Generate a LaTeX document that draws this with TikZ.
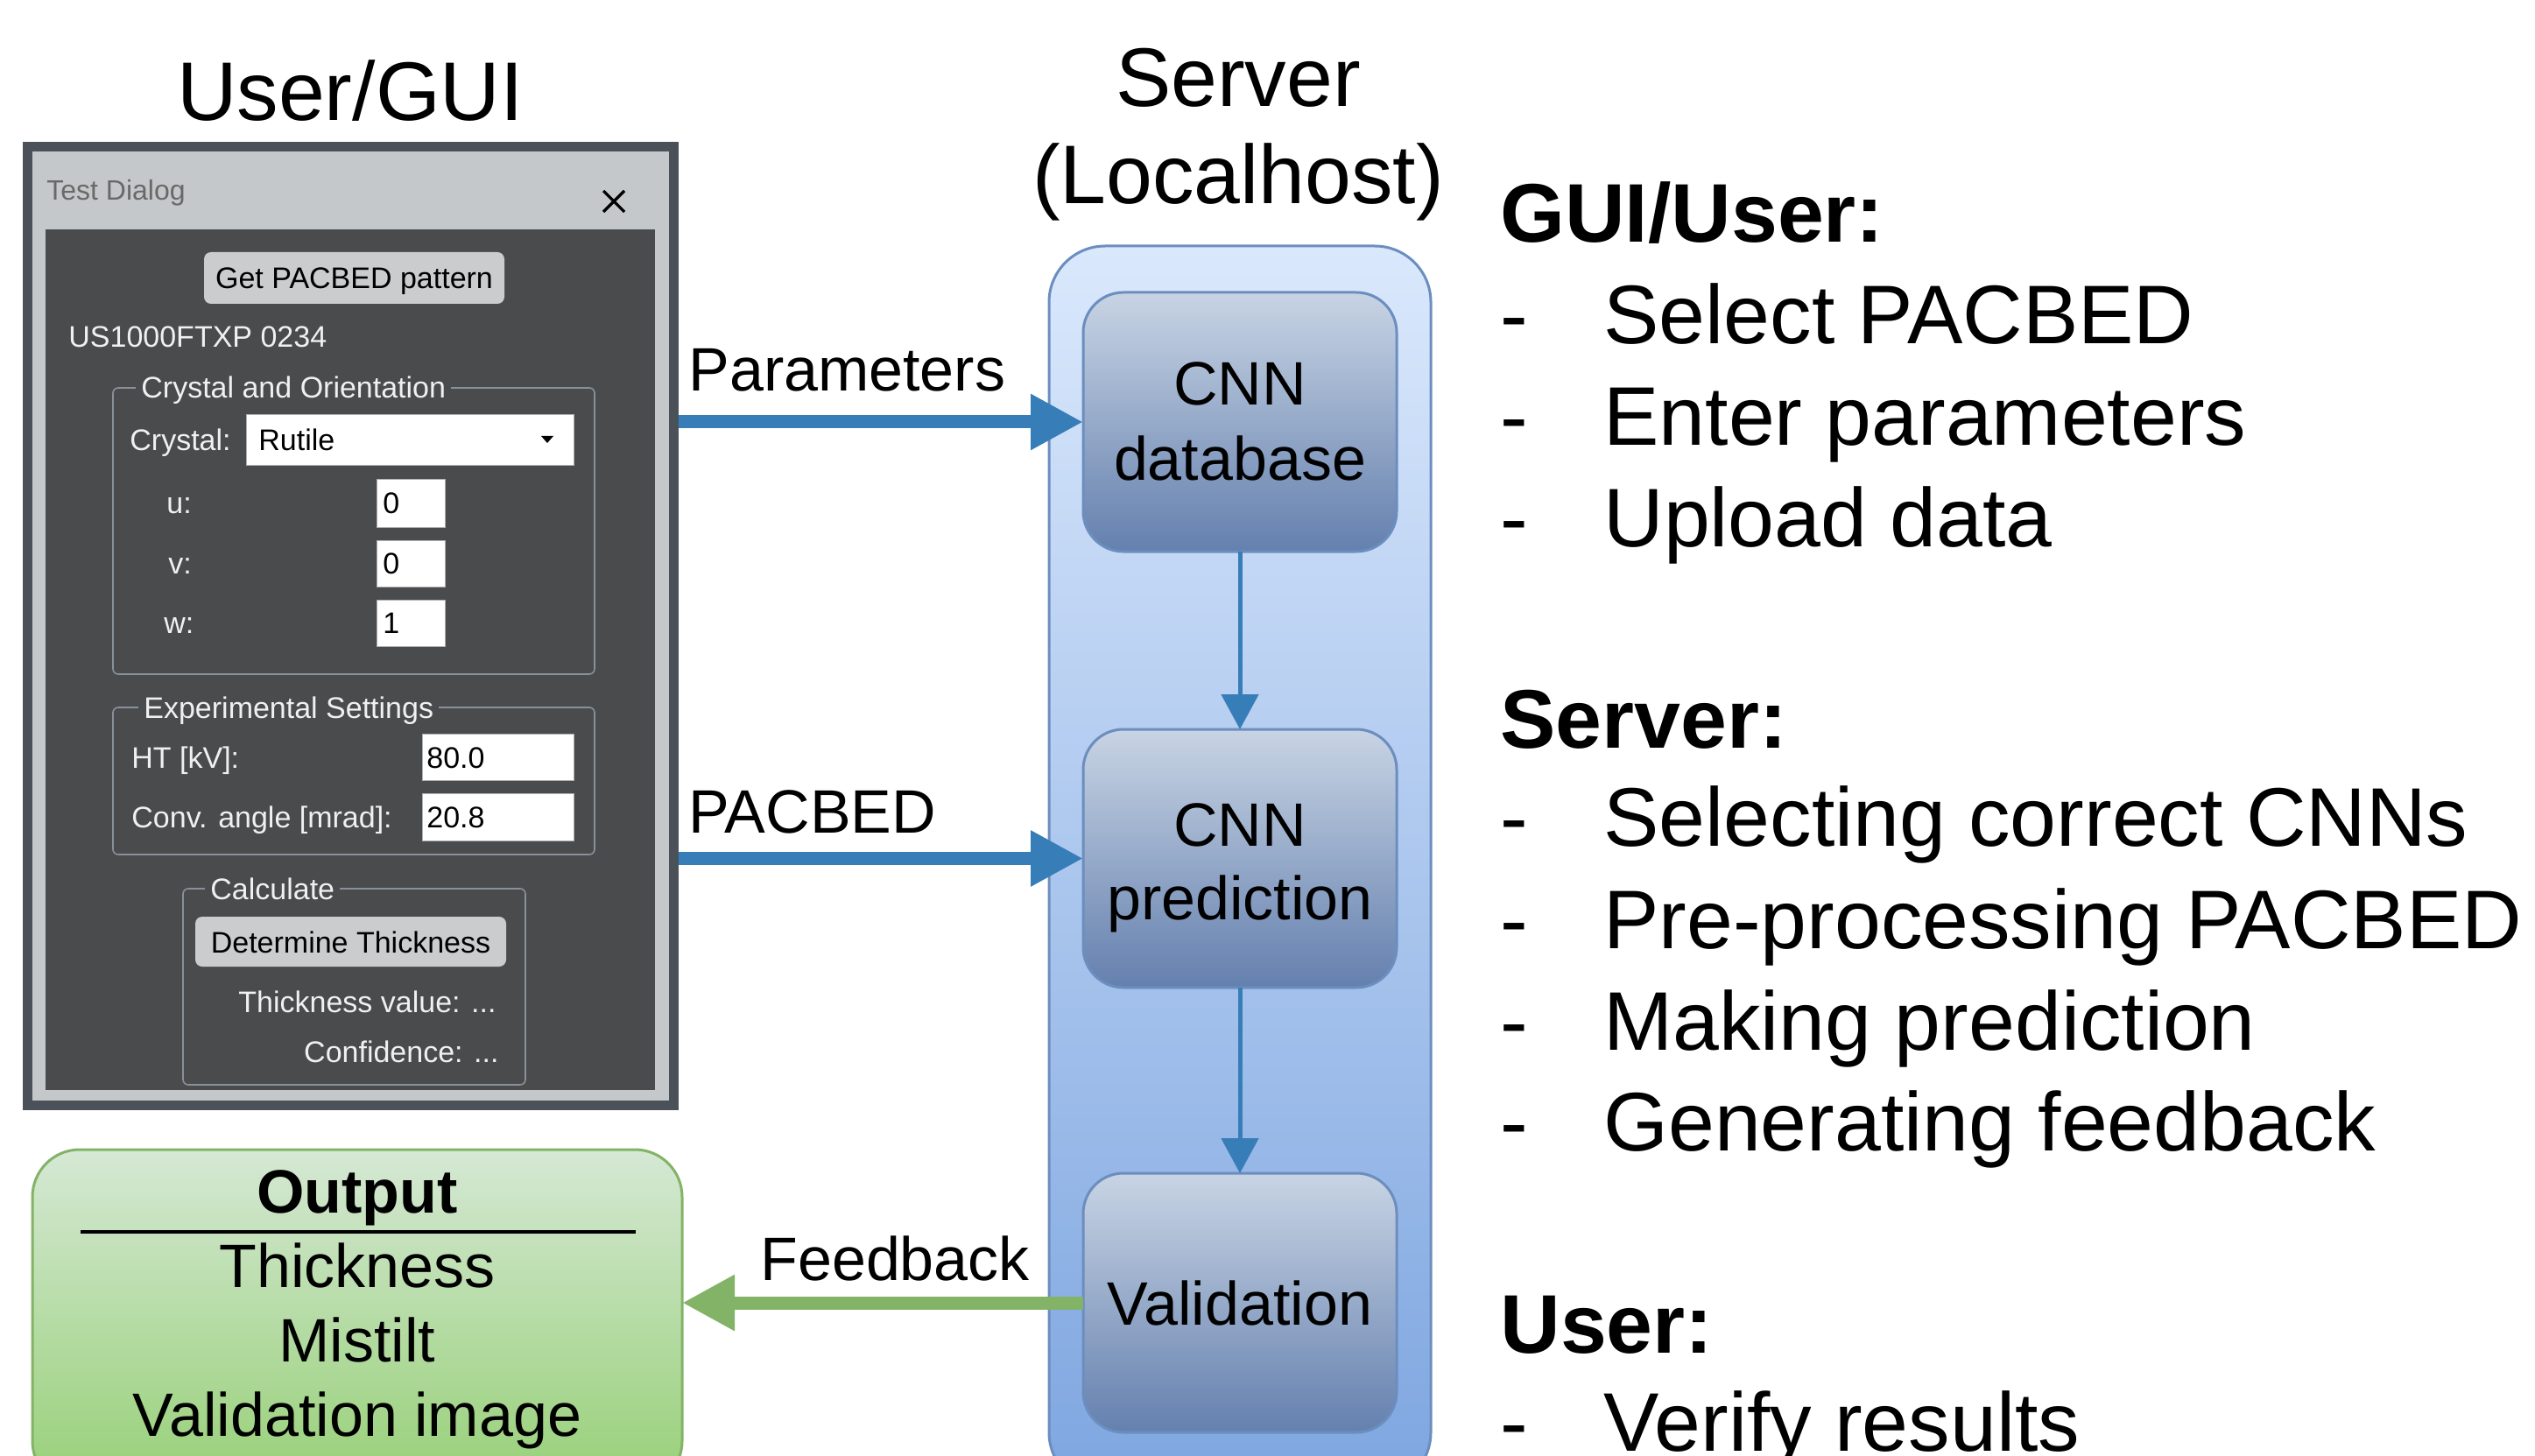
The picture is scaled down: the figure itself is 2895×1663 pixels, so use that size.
\documentclass[tikz,border=0pt]{standalone}
\usepackage{fontspec}
\setmainfont{Liberation Sans}
\usetikzlibrary{arrows.meta,fit}
\definecolor{frameC}{RGB}{74,81,89}
\definecolor{grayC}{RGB}{197,200,202}
\definecolor{panelC}{RGB}{74,75,77}
\definecolor{btnC}{RGB}{202,204,206}
\definecolor{grpC}{RGB}{135,145,155}
\definecolor{dlgtext}{RGB}{240,240,240}
\definecolor{titleC}{RGB}{105,105,105}
\definecolor{fieldLine}{RGB}{175,175,175}
\definecolor{arrowB}{RGB}{55,126,184}
\definecolor{arrowG}{RGB}{130,179,102}
\definecolor{srvTop}{RGB}{218,232,252}
\definecolor{srvBot}{RGB}{126,166,224}
\definecolor{srvLine}{RGB}{108,142,191}
\definecolor{boxTop}{RGB}{200,212,228}
\definecolor{boxBot}{RGB}{100,128,174}
\definecolor{outTop}{RGB}{213,232,212}
\definecolor{outBot}{RGB}{151,208,119}
\begin{document}
\begin{tikzpicture}[x=0.5pt,y=-0.5pt,
  big/.style={font=\fontsize{47.5}{57}\selectfont, inner sep=0pt},
  bigb/.style={font=\bfseries\fontsize{47.5}{57}\selectfont, inner sep=0pt},
  lbl/.style={font=\fontsize{35}{42}\selectfont, inner sep=0pt},
  lblb/.style={font=\bfseries\fontsize{35}{42}\selectfont, inner sep=0pt},
  dlg/.style={font=\fontsize{17}{20}\selectfont, inner sep=0pt, text=dlgtext},
  dlgdark/.style={font=\fontsize{17}{20}\selectfont, inner sep=0pt, text=black},
  fitbox/.style={inner sep=0pt, outer sep=0pt},
  btn/.style={fitbox, fill=btnC, rounded corners=4pt},
  field/.style={fitbox, fill=white, draw=fieldLine, line width=0.5pt},
  grp/.style={fitbox, draw=grpC, line width=0.8pt, rounded corners=3pt},
  grplabel/.style={dlg, fill=panelC, inner xsep=3pt, inner ysep=0pt},
  srv/.style={fitbox, draw=srvLine, line width=1.5pt, rounded corners=32pt, top color=srvTop, bottom color=srvBot},
  cnnbox/.style={fitbox, draw=srvLine, line width=1.5pt, rounded corners=23pt, top color=boxTop, bottom color=boxBot},
  outbox/.style={fitbox, draw=arrowG, line width=1.5pt, rounded corners=27pt, top color=outTop, bottom color=outBot},
  bigarrow/.style={draw=#1, line width=7.5pt, -{Triangle[length=30pt,width=30pt]}},
  smallarrow/.style={draw=arrowB, line width=2.5pt, -{Triangle[length=20pt,width=21pt]}}
]
\useasboundingbox (0,0) rectangle (2895,1663);
\clip (0,0) rectangle (2895,1663);

% ---------- titles ----------
\node[big, anchor=base] (tUser) at (400,138) {User/GUI};
\node[big, anchor=base] (tServer) at (1414,122) {Server};
\node[big, anchor=base] (tLocal) at (1414,233) {(Localhost)};

% ---------- dialog ----------
\node[fitbox, fill=frameC, fit={(26,162)(775,1268)}] (dialog) {};
\node[fitbox, fill=grayC, fit={(37,173)(764,1257)}] (dgray) {};
\node[fitbox, fill=panelC, fit={(52,262)(748,1245)}] (dpanel) {};
\node[font=\fontsize{16}{19}\selectfont, inner sep=0pt, text=titleC, anchor=base west] (dtitle) at (53,229) {Test Dialog};
\draw[line width=1.6pt, black] (689,218) -- (713,242) (689,242) -- (713,218);

\node[btn, fit={(233,288)(576,347)}] (bget) {};
\node[dlgdark, anchor=base] (tget) at (404.5,330) {Get PACBED pattern};
\node[dlg, anchor=base west] (tus) at (78,397) {US1000FTXP 0234};

\node[grp, fit={(129,443)(679,770)}] (gcrys) {};
\node[grplabel, anchor=base west] (lcrys) at (155,455) {Crystal and Orientation};
\node[dlg, anchor=base west] (tcrys) at (148,515) {Crystal:};
\node[field, fit={(281,474)(655,532)}] (fcrys) {};
\node[dlgdark, anchor=base west] (trut) at (295,515) {Rutile};
\fill[black] (618,498) -- (632,498) -- (625,506) -- cycle;

\node[dlg, anchor=base west] (tu) at (190,587) {u:};
\node[field, fit={(430,548)(508,602)}] (fu) {};
\node[dlgdark, anchor=base west] (vu) at (437,587) {0};
\node[dlg, anchor=base west] (tv) at (192,655) {v:};
\node[field, fit={(430,617)(508,670)}] (fv) {};
\node[dlgdark, anchor=base west] (vv) at (437,655) {0};
\node[dlg, anchor=base west] (tw) at (187,723) {w:};
\node[field, fit={(430,685)(508,738)}] (fw) {};
\node[dlgdark, anchor=base west] (vw) at (437,723) {1};

\node[grp, fit={(129,808)(679,976)}] (gexp) {};
\node[grplabel, anchor=base west] (lexp) at (158,820) {Experimental Settings};
\node[dlg, anchor=base west] (tht) at (150,877) {HT [kV]:};
\node[field, fit={(482,838)(655,891)}] (fht) {};
\node[dlgdark, anchor=base west] (vht) at (487,877) {80.0};
\node[dlg, anchor=base west] (tconv) at (150,945) {Conv. angle [mrad]:};
\node[field, fit={(482,906)(655,960)}] (fconv) {};
\node[dlgdark, anchor=base west] (vconv) at (487,945) {20.8};

\node[grp, fit={(209,1015)(600,1239)}] (gcalc) {};
\node[grplabel, anchor=base west] (lcalc) at (234,1027) {Calculate};
\node[btn, fit={(223,1047)(578,1104)}] (bdet) {};
\node[dlgdark, anchor=base] (tdet) at (400.5,1088) {Determine Thickness};
\node[dlg, anchor=base east] (tthv) at (567,1156) {Thickness value: ...};
\node[dlg, anchor=base east] (tconf) at (570,1213) {Confidence: ...};

% ---------- server ----------
\node[srv, fit={(1198,281)(1634,1700)}] (server) {};
\node[cnnbox, fit={(1237,334)(1595,630)}] (db) {};
\node[cnnbox, fit={(1237,833)(1595,1128)}] (pred) {};
\node[cnnbox, fit={(1237,1340)(1595,1636)}] (val) {};
\node[lbl, anchor=base] (tdb1) at (1416,463) {CNN};
\node[lbl, anchor=base] (tdb2) at (1416,548) {database};
\node[lbl, anchor=base] (tpr1) at (1416,966) {CNN};
\node[lbl, anchor=base] (tpr2) at (1416,1050) {prediction};
\node[lbl, anchor=base] (tval) at (1416,1513) {Validation};

\draw[smallarrow] (db.south) -- (pred.north);
\draw[smallarrow] (pred.south) -- (val.north);

% ---------- output ----------
\node[outbox, fit={(37,1313)(779,1700)}] (output) {};
\node[lblb, anchor=base] (tout) at (408,1385) {Output};
\draw[line width=2pt, black] (92,1407) -- (726,1407);
\node[lbl, anchor=base] (to1) at (408,1470) {Thickness};
\node[lbl, anchor=base] (to2) at (408,1555) {Mistilt};
\node[lbl, anchor=base] (to3) at (408,1640) {Validation image};

% ---------- connectors ----------
\draw[bigarrow=arrowB] (dialog.east |- db.west) -- (db.west);
\draw[bigarrow=arrowB] (dialog.east |- pred.west) -- (pred.west);
\draw[bigarrow=arrowG] (val.west) -- (val.west -| output.east);
\node[lbl, anchor=base west] (lpar) at (786,447) {Parameters};
\node[lbl, anchor=base west] (lpac) at (786,951) {PACBED};
\node[lbl, anchor=base west] (lfb) at (868,1462) {Feedback};

% ---------- right text ----------
\node[bigb, anchor=base west] (h1) at (1713,277) {GUI/User:};
\node[big, anchor=base west] (d11) at (1713,393) {-};
\node[big, anchor=base west] (i11) at (1831,393) {Select PACBED};
\node[big, anchor=base west] (d12) at (1713,509) {-};
\node[big, anchor=base west] (i12) at (1831,509) {Enter parameters};
\node[big, anchor=base west] (d13) at (1713,624) {-};
\node[big, anchor=base west] (i13) at (1831,624) {Upload data};

\node[bigb, anchor=base west] (h2) at (1713,854) {Server:};
\node[big, anchor=base west] (d21) at (1713,966) {-};
\node[big, anchor=base west] (i21) at (1831,966) {Selecting correct CNNs};
\node[big, anchor=base west] (d22) at (1713,1083) {-};
\node[big, anchor=base west] (i22) at (1831,1083) {Pre-processing PACBED};
\node[big, anchor=base west] (d23) at (1713,1199) {-};
\node[big, anchor=base west] (i23) at (1831,1199) {Making prediction};
\node[big, anchor=base west] (d24) at (1713,1314) {-};
\node[big, anchor=base west] (i24) at (1831,1314) {Generating feedback};

\node[bigb, anchor=base west] (h3) at (1713,1545) {User:};
\node[big, anchor=base west] (d31) at (1713,1657) {-};
\node[big, anchor=base west] (i31) at (1831,1657) {Verify results};
\end{tikzpicture}
\end{document}
